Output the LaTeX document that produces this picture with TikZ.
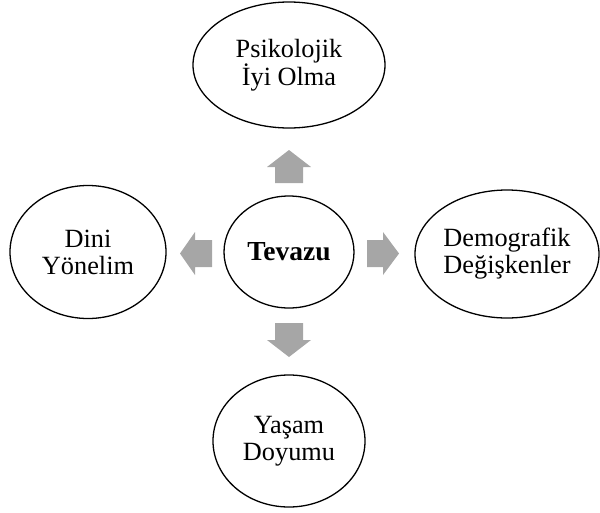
\documentclass[tikz,border=0pt]{standalone}
\usepackage{fontspec}
\setmainfont{Liberation Serif}
\usetikzlibrary{shapes.geometric}
\begin{document}
\begin{tikzpicture}[x=1pt,y=-1pt,
  bub/.style={draw=black,line width=1.3pt,ellipse,inner sep=0pt,align=center,
    font=\fontsize{26.3}{27}\selectfont},
  blk/.style={fill=black!35,draw=none}]
\useasboundingbox (0,0) rectangle (600,512);
\node[bub,minimum width=130,minimum height=112,font=\fontsize{27.5}{28}\selectfont\bfseries] (c) at (289,252) {Tevazu};
\node[bub,minimum width=192,minimum height=126] (t) at (289,65) {Psikolojik\\İyi Olma};
\node[bub,minimum width=184,minimum height=128] (r) at (507,254) {Demografik\\Değişkenler};
\node[bub,minimum width=156,minimum height=133] (l) at (88,252) {Dini\\Yönelim};
\node[bub,minimum width=152,minimum height=132] (b) at (289,441) {Yaşam\\Doyumu};
% block arrows
\fill[blk] (275,183) -- (275,167) -- (267,167) -- (289,150) -- (311,167) -- (303,167) -- (303,183) -- cycle;
\fill[blk] (275,323) -- (303,323) -- (303,340) -- (311,340) -- (289,357) -- (267,340) -- (275,340) -- cycle;
\fill[blk] (212,240) -- (195,240) -- (195,232) -- (180,253.5) -- (195,275) -- (195,267) -- (212,267) -- cycle;
\fill[blk] (367,240) -- (383,240) -- (383,232) -- (399,253.5) -- (383,275) -- (383,267) -- (367,267) -- cycle;
\end{tikzpicture}
\end{document}
